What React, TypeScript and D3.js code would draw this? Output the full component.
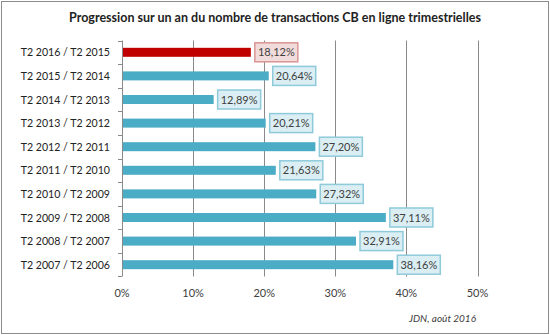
import React from "react";
import * as d3 from "d3";

const categories = [
  "T2 2016 / T2 2015",
  "T2 2015 / T2 2014",
  "T2 2014 / T2 2013",
  "T2 2013 / T2 2012",
  "T2 2012 / T2 2011",
  "T2 2011 / T2 2010",
  "T2 2010 / T2 2009",
  "T2 2009 / T2 2008",
  "T2 2008 / T2 2007",
  "T2 2007 / T2 2006",
];
const values = [18.12, 20.64, 12.89, 20.21, 27.2, 21.63, 27.32, 37.11, 32.91, 38.16];
const xTicks = [0, 10, 20, 30, 40, 50];
const title = "Progression sur un an du nombre de transactions CB en ligne trimestrielles";
const source = "JDN, août 2016";

const W = 550, H = 335;
const M = { left: 122, right: 477.5, top: 40.5, bottom: 276.5 };
const FONT = "Lato, 'Open Sans', sans-serif";

export default function App() {
  const x = d3.scaleLinear().domain([0, 50]).range([M.left, M.right]);
  const y = d3.scaleBand<string>().domain(categories).range([M.top, M.bottom]);
  const barH = 9;
  const fmt = (v: number) => v.toFixed(2).replace(".", ",") + "%";
  return (
    <svg width={W} height={H} style={{ position: "absolute", left: 0, top: 0, background: "#fff" }}>
      <rect x={1.5} y={1.5} width={W - 3} height={H - 3} fill="#fff" stroke="#8c8c8c" strokeWidth={1} />
      <text x={275} y={22} textAnchor="middle" fontFamily={FONT} fontWeight="bold" fontSize={12.5} fill="#222">
        {title}
      </text>
      {xTicks.map((t) => (
        <g key={t}>
          {t > 0 && (
            <line x1={Math.round(x(t)) + 0.5} x2={Math.round(x(t)) + 0.5} y1={M.top} y2={M.bottom} stroke="#8a8a8a" strokeWidth={1} />
          )}
          <text x={x(t)} y={297} textAnchor="middle" fontFamily={FONT} fontSize={11} fill="#404040">
            {t}%
          </text>
        </g>
      ))}
      <line x1={M.left + 0.5} x2={M.left + 0.5} y1={M.top} y2={M.bottom} stroke="#8a8a8a" />
      {categories.map((c, i) => (
        <line key={"t" + i} x1={M.left - 4} x2={M.left} y1={Math.round(y(c)!) + 0.5} y2={Math.round(y(c)!) + 0.5} stroke="#8a8a8a" />
      ))}
      <line x1={M.left - 4} x2={M.left} y1={M.bottom} y2={M.bottom} stroke="#8a8a8a" />
      {categories.map((c, i) => {
        const cy = y(c)! + y.bandwidth() / 2;
        const red = i === 0;
        const xe = x(values[i]);
        const bx = xe + 4;
        const bw = 43;
        return (
          <g key={c}>
            <text x={110} y={cy + 4} textAnchor="end" fontFamily={FONT} fontSize={10.6} fill="#222">
              {c}
            </text>
            <rect x={M.left + 1} y={cy - barH / 2} width={xe - M.left - 1} height={barH} fill={red ? "#c00000" : "#4bacc6"} />
            <rect
              x={bx}
              y={cy - 9.5}
              width={bw}
              height={19}
              fill={red ? "#f2dcdb" : "#daeef3"}
              stroke={red ? "#d99694" : "#8fcadb"}
              strokeWidth={1.5}
            />
            <text x={bx + bw / 2} y={cy + 4} textAnchor="middle" fontFamily={FONT} fontSize={11} fill="#404040">
              {fmt(values[i])}
            </text>
          </g>
        );
      })}
      <text x={476} y={322} textAnchor="end" fontFamily={FONT} fontStyle="italic" fontSize={10} fill="#404040">
        {source}
      </text>
    </svg>
  );
}
